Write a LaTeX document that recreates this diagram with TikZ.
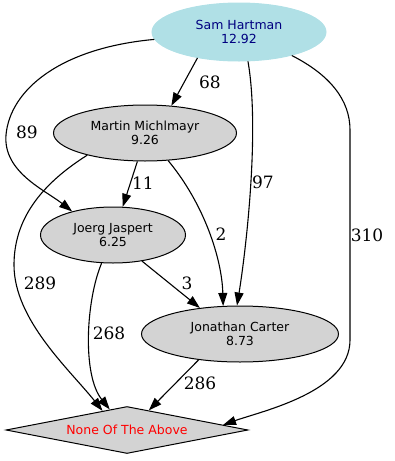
\documentclass[tikz,border=0pt]{standalone}
\usepackage{fontspec}
\newfontfamily\nodefont{DejaVu Sans}
\newfontfamily\edgefont{DejaVu Serif}
\usepackage{xcolor}
\usetikzlibrary{arrows.meta,shapes.geometric}
\definecolor{powderblue}{HTML}{B0E0E6}
\definecolor{navytext}{HTML}{000080}
\definecolor{lightgrey}{HTML}{D3D3D3}

\begin{document}
\begin{tikzpicture}[x=1pt, y=-1pt,
  person/.style={ellipse, draw, fill=lightgrey, line width=1pt, inner sep=0pt, minimum height=56pt, align=center, font=\nodefont\fontsize{12.5}{14}\selectfont},
  arrow/.style={-{Triangle[length=13pt,width=9pt]}, line width=1.1pt},
  lab/.style={font=\edgefont\fontsize{17}{20}\selectfont, inner sep=0pt}
]
\useasboundingbox (0,0) rectangle (394,461);
\node[person, fill=powderblue, draw=powderblue, text=navytext, minimum width=174pt, minimum height=58pt] (sam) at (239,32) {Sam Hartman\\12.92};
\node[person, minimum width=183pt] (martin) at (145,133) {Martin Michlmayr\\9.26};
\node[person, minimum width=145pt] (joerg) at (113,235) {Joerg Jaspert\\6.25};
\node[person, minimum width=197pt] (carter) at (240,334) {Jonathan Carter\\8.73};
\node[diamond, draw, fill=lightgrey, line width=1pt, aspect=5.15, inner sep=0pt, minimum width=242pt, minimum height=47pt, text=red, font=\nodefont\fontsize{12.5}{14}\selectfont] (nota) at (127,430) {None Of The Above};
\draw[arrow] (sam.212) -- (martin.46);
\draw[arrow] (sam.185) .. controls (60,48) and (10,90) .. (6,135) .. controls (3,172) and (45,190) .. (joerg.150);
\draw[arrow] (sam.287) .. controls (260,130) and (246,250) .. (carter.96);
\draw[arrow] (sam.336) .. controls (330,75) and (350,100) .. (350,130) -- (350,340) .. controls (350,392) and (262,411) .. (nota.3);
\draw[arrow] (martin.255) -- (joerg.71);
\draw[arrow] (martin.310) .. controls (205,205) and (222,260) .. (carter.121);
\draw[arrow] (martin.201) .. controls (40,185) and (14,220) .. (14,265) .. controls (14,320) and (70,370) .. (nota.142);
\draw[arrow] (joerg.248) .. controls (86,300) and (82,375) .. (nota.130);
\draw[arrow] (joerg.318) -- (carter.147);
\draw[arrow] (carter.212) -- (nota.42);
\foreach \w/\x/\y in {68/210/82, 89/27/132, 97/263/182, 310/367/235, 11/143/183, 2/221/234, 289/40/283, 3/187/283, 268/109/333, 286/200/383} {
  \node[lab] (w\w) at (\x,\y) {\w};
}
\end{tikzpicture}
\end{document}
